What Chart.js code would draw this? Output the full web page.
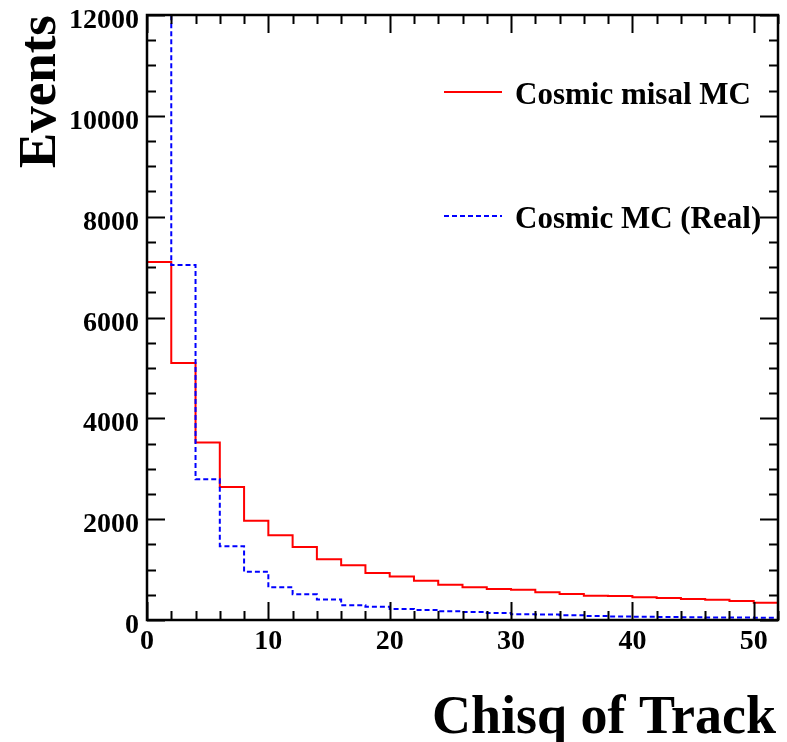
<!DOCTYPE html>
<html>
<head>
<meta charset="utf-8">
<script src="https://cdn.jsdelivr.net/npm/chart.js@4.4.1/dist/chart.umd.min.js"></script>
<style>
  body { margin: 0; background: #fff; }
  canvas { display: block; }
</style>
</head>
<body>
<canvas id="myChart" width="787" height="742"></canvas>
<script>
// bin edges of the histogram (width 2)
const binEdges = [0, 2, 4, 6, 8, 10, 12, 14, 16, 18, 20, 22, 24, 26, 28, 30, 32, 34, 36, 38, 40, 42, 44, 46, 48, 50, 52];
// events per bin
const misalMC = [7100, 5100, 3520, 2640, 1970, 1680, 1450, 1205, 1085, 930, 865, 780, 700, 648, 615, 600, 550, 515, 482, 476, 450, 436, 416, 403, 377, 344];
const realMC = [25000, 7040, 2790, 1465, 958, 648, 509, 405, 291, 264, 218, 198, 172, 159, 139, 113, 108, 96, 80, 70, 62, 58, 55, 50, 48, 45];
const seriesLabels = ['Cosmic misal MC', 'Cosmic MC (Real)'];
const xTitle = 'Chisq of Track';
const yTitle = 'Events';

const FONT = '"Liberation Serif", "Times New Roman", serif';

// step points: one at every left edge, plus the last right edge
function toSteps(vals) {
    return binEdges.map((x, i) => ({ x: x, y: vals[Math.min(i, vals.length - 1)] }));
}

// frame, ROOT-style inward ticks, labels, titles and legend
const rootStyle = {
    id: 'rootStyle',
    afterDraw(chart) {
        const ctx = chart.ctx;
        const a = chart.chartArea;
        const xs = chart.scales.x;
        const ys = chart.scales.y;
        ctx.save();
        ctx.strokeStyle = '#000';
        ctx.fillStyle = '#000';

        // ticks
        ctx.lineWidth = 2;
        ctx.beginPath();
        xs.ticks.forEach(t => {
            const px = Math.round(xs.getPixelForValue(t.value)) + 0.5;
            const len = t.value % 10 === 0 ? 18 : 9;
            ctx.moveTo(px, a.bottom); ctx.lineTo(px, a.bottom - len);
            ctx.moveTo(px, a.top); ctx.lineTo(px, a.top + len);
        });
        ys.ticks.forEach(t => {
            const py = Math.round(ys.getPixelForValue(t.value)) + 0.5;
            const len = t.value % 2000 === 0 ? 18 : 9;
            ctx.moveTo(a.left, py); ctx.lineTo(a.left + len, py);
            ctx.moveTo(a.right, py); ctx.lineTo(a.right - len, py);
        });
        ctx.stroke();

        // frame
        ctx.lineWidth = 2.5;
        ctx.strokeRect(a.left, a.top, a.right - a.left, a.bottom - a.top);

        // tick labels
        ctx.font = 'bold 28px ' + FONT;
        ctx.textBaseline = 'alphabetic';
        ctx.textAlign = 'center';
        xs.ticks.forEach(t => {
            if (t.value % 10 !== 0) return;
            ctx.fillText(String(t.value), xs.getPixelForValue(t.value), 649);
        });
        ctx.textAlign = 'right';
        ys.ticks.forEach(t => {
            if (t.value % 2000 !== 0) return;
            ctx.fillText(String(t.value), 139, ys.getPixelForValue(t.value) + 13);
        });

        // axis titles
        ctx.font = 'bold 54px ' + FONT;
        ctx.textAlign = 'right';
        ctx.fillText(xTitle, a.right - 2, 733);
        ctx.save();
        ctx.translate(55, a.top);
        ctx.rotate(-Math.PI / 2);
        ctx.font = 'bold 53px ' + FONT;
        ctx.fillText(yTitle, 0, 0);
        ctx.restore();

        // legend
        const legendY = [92, 216];
        ctx.font = 'bold 31px ' + FONT;
        ctx.textAlign = 'left';
        chart.data.datasets.forEach((ds, i) => {
            ctx.save();
            ctx.strokeStyle = ds.borderColor;
            ctx.lineWidth = 2;
            ctx.setLineDash(ds.borderDash || []);
            ctx.beginPath();
            ctx.moveTo(444, legendY[i]);
            ctx.lineTo(502, legendY[i]);
            ctx.stroke();
            ctx.restore();
            ctx.fillText(ds.label, 515, legendY[i] + 12);
        });
        ctx.restore();
    }
};

let ctx = document.getElementById('myChart');
let myChart = new Chart(ctx, {
    type: 'line',
    data: {
        datasets: [{
            label: seriesLabels[0],
            data: toSteps(misalMC),
            borderColor: '#ff0000',
            borderWidth: 2,
            stepped: 'before',
            pointRadius: 0,
            fill: false,
            order: 2
        }, {
            label: seriesLabels[1],
            data: toSteps(realMC),
            borderColor: '#0000ff',
            borderWidth: 2,
            borderDash: [5, 3],
            stepped: 'before',
            pointRadius: 0,
            fill: false,
            order: 1
        }]
    },
    options: {
        responsive: false,
        devicePixelRatio: 1,
        animation: false,
        layout: {
            padding: { left: 147, right: 9, top: 15, bottom: 122 }
        },
        plugins: {
            legend: { display: false },
            tooltip: { enabled: false }
        },
        scales: {
            x: {
                type: 'linear',
                min: 0,
                max: 52,
                ticks: { display: false, stepSize: 2 },
                grid: { display: false },
                border: { display: false },
                afterFit(scale) { scale.height = 0; }
            },
            y: {
                min: 0,
                max: 12000,
                ticks: { display: false, stepSize: 500 },
                grid: { display: false },
                border: { display: false },
                afterFit(scale) { scale.width = 0; }
            }
        }
    },
    plugins: [rootStyle]
});
</script>
</body>
</html>
